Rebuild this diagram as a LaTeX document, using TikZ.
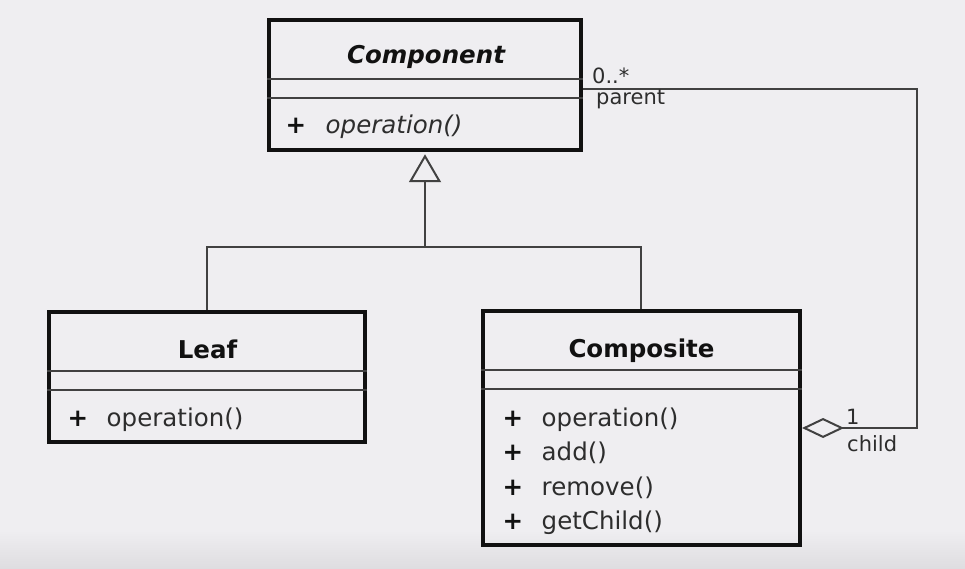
\documentclass[tikz,border=0pt]{standalone}
\usepackage{fontspec}
\setmainfont{DejaVu Sans}
\usetikzlibrary{arrows.meta}
\definecolor{bg}{RGB}{239,238,241}
\definecolor{bgdark}{RGB}{222,221,224}
\definecolor{ink}{RGB}{17,17,17}
\definecolor{txt}{RGB}{45,45,45}
\definecolor{wiregray}{RGB}{65,65,65}

\begin{document}
\begin{tikzpicture}[x=1pt,y=-1pt,
classbox/.style={draw=ink,line width=4.5pt,inner sep=0pt},
divider/.style={draw=wiregray,line width=2pt},
classname/.style={font=\fontsize{24.5}{28}\selectfont\bfseries,text=ink,anchor=base,inner sep=0pt},
vis/.style={font=\fontsize{24.5}{28}\selectfont\bfseries,text=ink,anchor=base west,inner sep=0pt},
op/.style={font=\fontsize{24.5}{28}\selectfont,text=txt,anchor=base west,inner sep=0pt},
role/.style={font=\fontsize{21}{24}\selectfont,text=txt,anchor=base west,inner sep=0pt},
wire/.style={draw=wiregray,line width=2pt}]
\fill[bg] (0,0) rectangle (965,569);
\shade[top color=bg,bottom color=bgdark] (0,530) rectangle (965,569);
\useasboundingbox (0,0) rectangle (965,569);
\node[classbox,minimum width=312pt,minimum height=130pt] (component) at (425,85) {};
\node[classbox,minimum width=316pt,minimum height=130pt] (leaf) at (207,377) {};
\node[classbox,minimum width=317pt,minimum height=234pt] (composite) at (641.3,428) {};
\path[divider] ([yshift=-61.5pt]component.north west) -- ([yshift=-61.5pt]component.north east);
\path[divider] ([yshift=-80.5pt]component.north west) -- ([yshift=-80.5pt]component.north east);
\path[divider] ([yshift=-61.5pt]leaf.north west) -- ([yshift=-61.5pt]leaf.north east);
\path[divider] ([yshift=-80.5pt]leaf.north west) -- ([yshift=-80.5pt]leaf.north east);
\path[divider] ([yshift=-61.5pt]composite.north west) -- ([yshift=-61.5pt]composite.north east);
\path[divider] ([yshift=-80.5pt]composite.north west) -- ([yshift=-80.5pt]composite.north east);
\node[classname,font=\fontsize{24.5}{28}\selectfont\bfseries\itshape] (componentname) at (426,64) {Component};
\node[vis] (componentplus) at (285.5,134) {+};
\node[op,font=\fontsize{24.5}{28}\selectfont\itshape] (componentop) at (325.5,134) {operation()};
\node[classname] (leafname) at (207.5,358) {Leaf};
\node[vis] (leafplus) at (67.5,426) {+};
\node[op] (leafop) at (106.5,426) {operation()};
\node[classname] (compositename) at (641.5,357) {Composite};
\node[vis] (compositeplus1) at (502.5,426) {+};
\node[op] (compositeop1) at (541.5,426) {operation()};
\node[vis] (compositeplus2) at (502.5,460.5) {+};
\node[op] (compositeop2) at (541.5,460.5) {add()};
\node[vis] (compositeplus3) at (502.5,495) {+};
\node[op] (compositeop3) at (541.5,495) {remove()};
\node[vis] (compositeplus4) at (502.5,529.5) {+};
\node[op] (compositeop4) at (541.5,529.5) {getChild()};
\coordinate (join) at (425,247);
\coordinate (corner) at (917,89);
\path[draw,wire] (leaf.north) |- (join);
\path[draw,wire] (composite.north) |- (join);
\path[draw,wire,-{Triangle[open,length=28pt,width=32pt]},shorten >=2pt] (join) -- (component.south);
\path[draw,wire,{Diamond[open,length=42pt,width=20pt]}-] (composite.east) -| (corner) -- (component.east |- corner);
\node[role] (multparent) at (592,84) {0..*};
\node[role] (roleparent) at (596,105) {parent};
\node[role] (multchild) at (846,424) {1};
\node[role] (rolechild) at (847,451) {child};
\end{tikzpicture}
\end{document}
